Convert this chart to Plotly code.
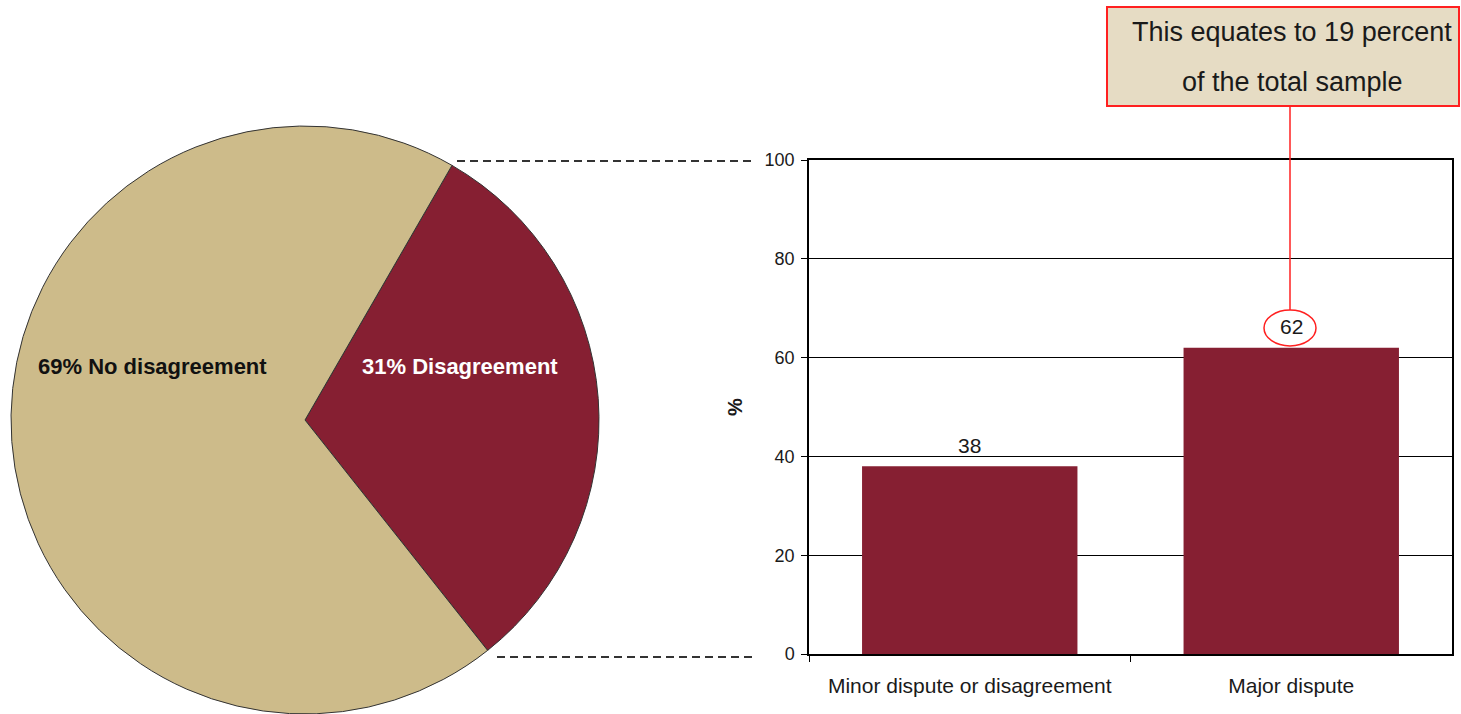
import plotly.graph_objects as go

# Pie: share of respondents reporting a disagreement
pie_labels = ["Disagreement", "No disagreement"]
pie_values = [31, 69]

# Bar: type of disagreement among those reporting one (%)
bar_categories = ["Minor dispute or disagreement", "Major dispute"]
bar_values = [38, 62]

y_ticks = [0, 20, 40, 60, 80, 100]
callout_lines = ["This equates to 19 percent", "of the total sample"]

TAN = "#CDBB8A"
MAROON = "#861F32"
FONT = "Liberation Sans, Arial, sans-serif"
W, H = 1461, 714


def px(x):
    return x / W


def py(y):
    return (H - y) / H


fig = go.Figure()

fig.add_trace(go.Pie(
    labels=pie_labels,
    values=pie_values,
    sort=False,
    direction="clockwise",
    rotation=30,
    marker=dict(colors=[MAROON, TAN], line=dict(color="#333333", width=1)),
    textinfo="none",
    hoverinfo="label+percent",
    showlegend=False,
    automargin=False,
    domain=dict(x=[px(11), px(599)], y=[0, 588 / H]),
))

fig.add_trace(go.Bar(
    x=bar_categories,
    y=bar_values,
    width=0.67,
    marker=dict(color=MAROON, line=dict(width=0)),
    showlegend=False,
    xaxis="x",
    yaxis="y",
))

fig.update_layout(
    width=W,
    height=H,
    autosize=False,
    showlegend=False,
    margin=dict(l=0, r=0, t=0, b=0, pad=0),
    paper_bgcolor="white",
    plot_bgcolor="white",
    font=dict(family=FONT, color="#1a1a1a"),
    xaxis=dict(
        domain=[px(809), px(1452)],
        anchor="y",
        type="category",
        automargin=False,
        tickson="boundaries",
        ticks="outside",
        ticklen=6,
        tickcolor="black",
        showline=True,
        linecolor="black",
        linewidth=1.5,
        mirror=True,
        showgrid=False,
        ticklabelstandoff=12,
        tickfont=dict(size=21, family=FONT, color="#1a1a1a"),
    ),
    yaxis=dict(
        domain=[py(654), py(160)],
        anchor="x",
        automargin=False,
        range=[0, 100],
        tickvals=y_ticks,
        ticks="outside",
        ticklen=6,
        tickcolor="black",
        showline=True,
        linecolor="black",
        linewidth=1.5,
        mirror=True,
        showgrid=True,
        gridcolor="black",
        gridwidth=1,
        zeroline=False,
        ticklabelstandoff=3,
        tickfont=dict(size=18, family=FONT, color="#1a1a1a"),
        title=dict(text="<b>%</b>", font=dict(size=20, family=FONT), standoff=17),
    ),
)

# Slice labels
fig.add_annotation(x=px(152), y=py(367), xref="paper", yref="paper",
                   xanchor="center", yanchor="middle",
                   text=f"<b>{pie_values[1]}% {pie_labels[1]}</b>", showarrow=False,
                   font=dict(size=22, color="#111111", family=FONT))
fig.add_annotation(x=px(460), y=py(367), xref="paper", yref="paper",
                   xanchor="center", yanchor="middle",
                   text=f"<b>{pie_values[0]}% {pie_labels[0]}</b>", showarrow=False,
                   font=dict(size=22, color="white", family=FONT))

# Value labels above bars
for cat, val in zip(bar_categories, bar_values):
    fig.add_annotation(x=cat, y=val, xref="x", yref="y", text=str(val),
                       xanchor="center", yanchor="middle",
                       showarrow=False, yshift=21,
                       font=dict(size=21, family=FONT, color="#1a1a1a"))

# Dashed connectors from the disagreement slice to the bar axis
for (x0, y0) in [(457, 161), (497, 657)]:
    fig.add_shape(type="line", xref="paper", yref="paper",
                  x0=px(x0), x1=px(752), y0=py(y0), y1=py(y0),
                  line=dict(color="#333333", width=2, dash="8px,5px"))

# Highlight ring around the major-dispute value and callout
fig.add_shape(type="circle", xref="paper", yref="paper",
              x0=px(1264), x1=px(1316), y0=py(346), y1=py(310),
              line=dict(color="#FF2020", width=1.5), fillcolor="rgba(0,0,0,0)")
fig.add_shape(type="line", xref="paper", yref="paper",
              x0=px(1290), x1=px(1290), y0=py(310), y1=py(106),
              line=dict(color="#FF2020", width=1.5))
fig.add_shape(type="rect", xref="paper", yref="paper",
              x0=px(1107), x1=px(1459), y0=py(106), y1=py(7),
              fillcolor="#E6DCC4", line=dict(color="#FF2020", width=2))
for text, yc in zip(callout_lines, [32, 82]):
    fig.add_annotation(x=px(1292), y=py(yc), xref="paper", yref="paper",
                       xanchor="center", yanchor="middle",
                       text=text, showarrow=False,
                       font=dict(size=27, family=FONT, color="#1a1a1a"))

fig.write_html("out.html")
